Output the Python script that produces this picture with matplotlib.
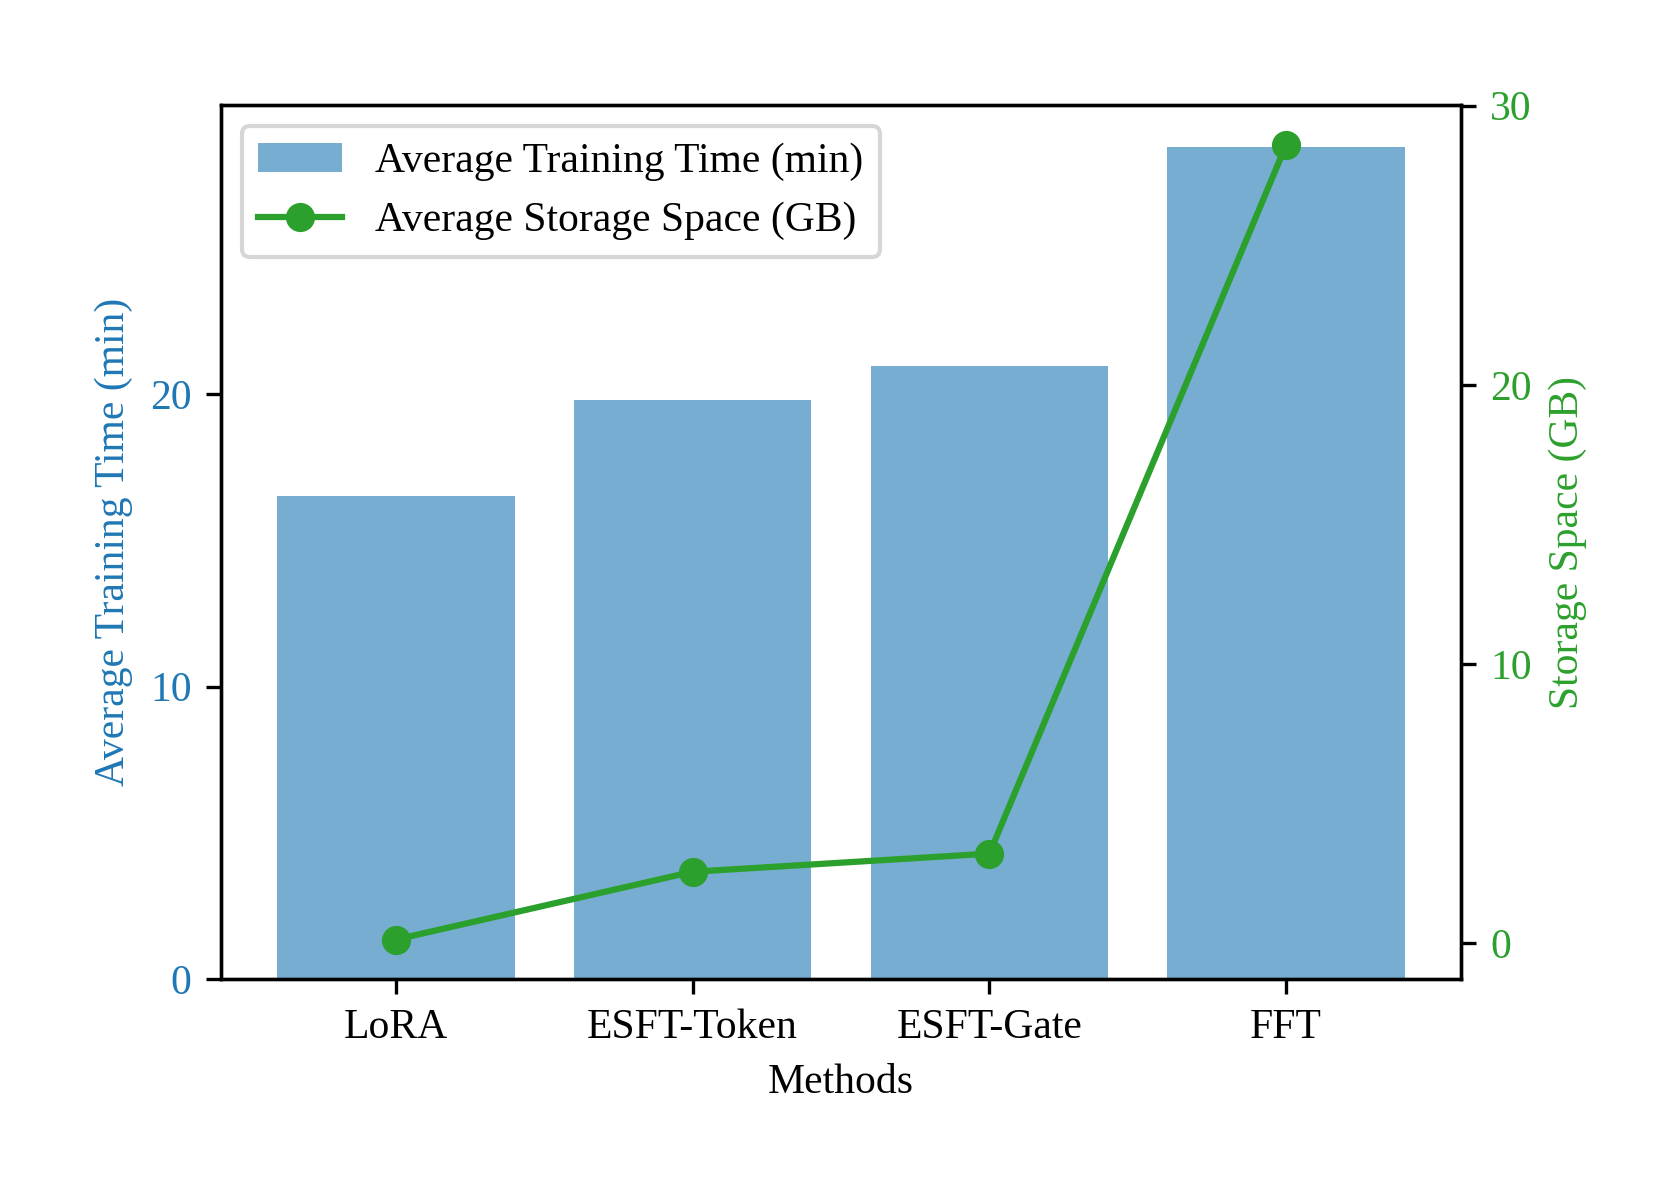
import numpy as np
import matplotlib.pyplot as plt
from matplotlib.ticker import MultipleLocator

plt.rcParams['font.family'] = ['Liberation Serif', 'DejaVu Serif']
plt.rcParams['font.size'] = 10

methods = ['LoRA', 'ESFT-Token', 'ESFT-Gate', 'FFT']
train_time = [16.5, 19.8, 20.95, 28.45]   # min
storage = [0.12, 2.55, 3.2, 28.6]          # GB

fig, ax1 = plt.subplots(figsize=(5.6, 4), dpi=300)
fig.subplots_adjust(left=0.1314, right=0.8698, bottom=0.1839, top=0.9125)

x = np.arange(len(methods))
b = ax1.bar(x, train_time, color='tab:blue', alpha=0.6, label='Average Training Time (min)')
ax1.set_xlabel('Methods')
ax1.set_ylabel('Average Training Time (min)', color='tab:blue')
ax1.tick_params(axis='y', labelcolor='tab:blue')
ax1.yaxis.set_major_locator(MultipleLocator(10))
ax1.set_xticks(x)
ax1.set_xticklabels(methods)

ax2 = ax1.twinx()
l, = ax2.plot(x, storage, color='tab:green', marker='o', linewidth=1.5,
              label='Average Storage Space (GB)')
ax2.set_ylabel('Storage Space (GB)', color='tab:green')
ax2.tick_params(axis='y', labelcolor='tab:green')
ax2.yaxis.set_major_locator(MultipleLocator(10))

ax1.legend([b, l], [b.get_label(), l.get_label()], loc='upper left')

plt.savefig('out.png', dpi=300)
